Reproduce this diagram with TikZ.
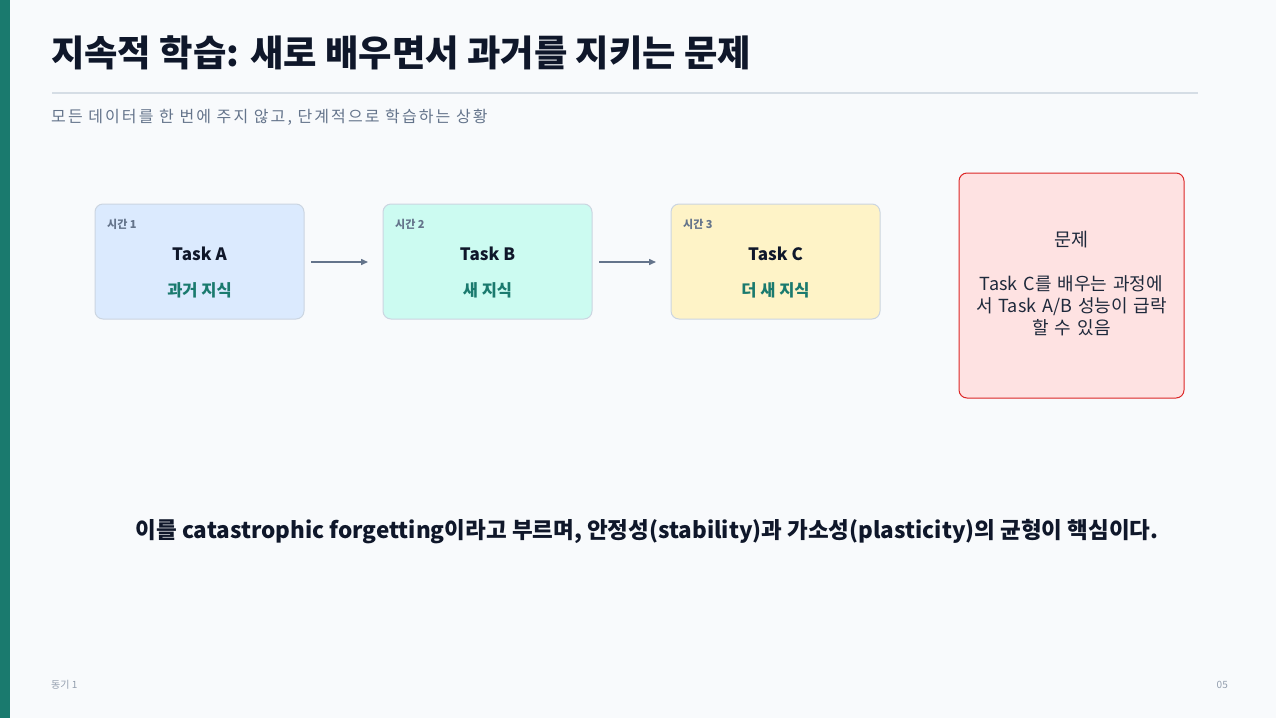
\documentclass[tikz,border=0pt]{standalone}
\usepackage{fontspec}
\setmainfont{Noto Sans CJK KR}
\usetikzlibrary{arrows.meta}
\definecolor{bg}{HTML}{F8FAFC}
\definecolor{teal}{HTML}{1A7A6E}
\definecolor{ink}{HTML}{0F172A}
\definecolor{subgray}{HTML}{64748B}
\definecolor{rulegray}{HTML}{D5DDE5}
\definecolor{bordergray}{HTML}{CBD5E1}
\definecolor{fillA}{HTML}{DBEAFE}
\definecolor{fillB}{HTML}{CCFBF1}
\definecolor{fillC}{HTML}{FEF3C7}
\definecolor{fillR}{HTML}{FEE2E2}
\definecolor{redb}{HTML}{DC2626}
\definecolor{bodytext}{HTML}{1E293B}
\tikzset{
  taskbox/.style={draw=bordergray, line width=1pt, rounded corners=8pt, minimum width=209pt, minimum height=115pt, inner sep=0pt},
  timelbl/.style={anchor=west, font=\fontsize{11}{13}\selectfont\bfseries, text=subgray, inner sep=0pt},
  tasklbl/.style={font=\fontsize{17}{20}\selectfont\bfseries, text=ink, inner sep=0pt},
  knowlbl/.style={font=\fontsize{16.5}{20}\selectfont\bfseries, text=teal, inner sep=0pt},
  flow/.style={draw=subgray, line width=1.5pt, -{Triangle[length=7pt,width=6pt]}},
}
\begin{document}
\begin{tikzpicture}[x=1pt,y=-1pt]
\useasboundingbox (0,0) rectangle (1276,718);
\fill[bg] (0,0) rectangle (1276,718);
\fill[teal] (0,0) rectangle (10,718);
% title
\node[anchor=west, inner sep=0pt, font=\fontsize{36.3}{42}\selectfont\bfseries, text=ink] (title) at (51,53) {지속적 학습: 새로 배우면서 과거를 지키는 문제};
\draw[rulegray, line width=2pt] (52,93) -- (1198,93);
\node[anchor=west, inner sep=0pt, font=\fontsize{16}{18}\selectfont\addfontfeature{LetterSpace=13}, text=subgray] (sub) at (51,117) {모든 데이터를 한 번에 주지 않고, 단계적으로 학습하는 상황};
% boxes
\node[taskbox, fill=fillA] (A) at (199.5,261.5) {};
\node[taskbox, fill=fillB] (B) at (487.5,261.5) {};
\node[taskbox, fill=fillC] (C) at (775.5,261.5) {};
\node[timelbl] (tA) at (107,224) {시간 1};
\node[timelbl] (tB) at (395,224) {시간 2};
\node[timelbl] (tC) at (683,224) {시간 3};
\node[tasklbl] (nA) at (199.5,254) {Task A};
\node[tasklbl] (nB) at (487.5,254) {Task B};
\node[tasklbl] (nC) at (775.5,254) {Task C};
\node[knowlbl] (kA) at (199.5,290) {과거 지식};
\node[knowlbl] (kB) at (487.5,290) {새 지식};
\node[knowlbl] (kC) at (775.5,290) {더 새 지식};
\coordinate (a1) at (311,262);
\coordinate (a2) at (368,262);
\coordinate (b1) at (599,262);
\coordinate (b2) at (656,262);
\draw[flow] (a1) -- (a2);
\draw[flow] (b1) -- (b2);
% problem box
\node[draw=redb, fill=fillR, line width=1pt, rounded corners=8pt, minimum width=225pt, minimum height=225pt, inner sep=0pt] (R) at (1071.5,285.5) {};
\node[inner sep=0pt, font=\fontsize{18.5}{22}\selectfont, text=bodytext] (Rt) at (1071.5,240) {문제};
\node[inner sep=0pt, align=center, text width=210pt, font=\fontsize{18}{22}\selectfont, text=bodytext] (Rb) at (1071.5,306) {Task C를 배우는 과정에\\서 Task A/B 성능이 급락\\할 수 있음};
% bottom statement
\node[inner sep=0pt, font=\fontsize{22.5}{27}\selectfont\bfseries, text=ink] (stmt) at (647,532) {이를 catastrophic forgetting이라고 부르며, 안정성(stability)과 가소성(plasticity)의 균형이 핵심이다.};
% footer
\node[anchor=west, inner sep=0pt, font=\fontsize{10}{12}\selectfont, text=subgray!70] (f1) at (51,685) {동기 1};
\node[anchor=east, inner sep=0pt, font=\fontsize{10}{12}\selectfont, text=subgray!70] (f2) at (1228,685) {05};
\end{tikzpicture}
\end{document}
